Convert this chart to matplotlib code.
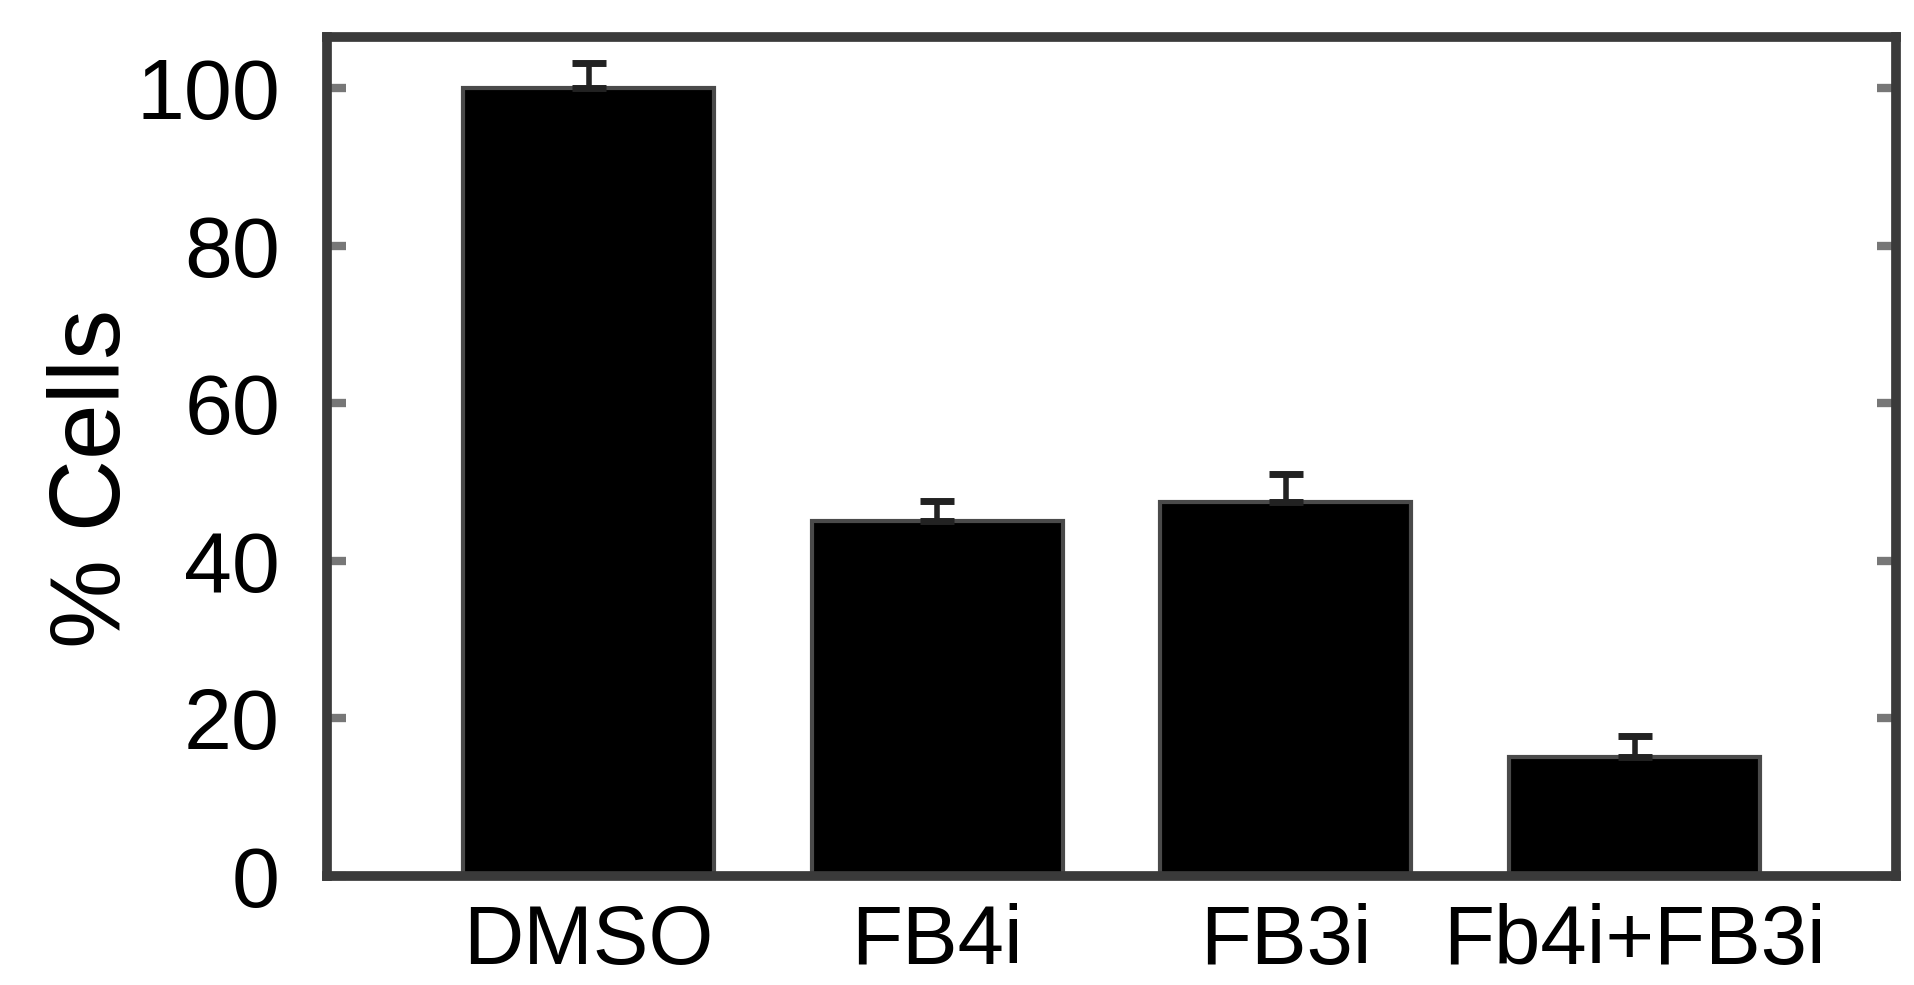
import matplotlib
matplotlib.use("Agg")
import matplotlib.pyplot as plt

plt.rcParams['font.family'] = ['Liberation Sans', 'DejaVu Sans']

groups = ["DMSO", "FB4i", "FB3i", "Fb4i+FB3i"]
values = [100.0, 45.0, 47.4, 15.1]
errors = [3.2, 2.6, 3.6, 2.6]
y_ticks = [0, 20, 40, 60, 80, 100]

fig = plt.figure(figsize=(19.14, 9.85), dpi=100)
ax = fig.add_axes([0.171, 0.111, 0.8196, 0.8514])

x = range(len(groups))
ax.bar(x, values, width=0.72, color="black", edgecolor="#4a4a4a", linewidth=3,
       zorder=2)
# upper error bars only
ax.errorbar(x, values, yerr=[[0] * len(errors), errors], fmt="none",
            ecolor="#222222", elinewidth=4, capsize=12, capthick=5, zorder=3)

ax.set_xlim(-0.75, 3.75)
ax.set_ylim(0, 106.5)
ax.set_yticks(y_ticks)
ax.set_xticks(list(x))
ax.set_xticklabels(groups)

for side in ["left", "right", "top", "bottom"]:
    ax.spines[side].set_linewidth(7)
    ax.spines[side].set_color("#3a3a3a")

ax.tick_params(axis="y", direction="in", left=True, right=True, length=14,
               width=6, color="#777777", labelsize=62, pad=34)
ax.tick_params(axis="x", bottom=False, labelsize=60, pad=16)

ax.set_ylabel("% Cells", fontsize=72, va="center")
ax.yaxis.set_label_coords(-0.1485, 0.474)

fig.savefig("out.png", dpi=100, facecolor="white")
